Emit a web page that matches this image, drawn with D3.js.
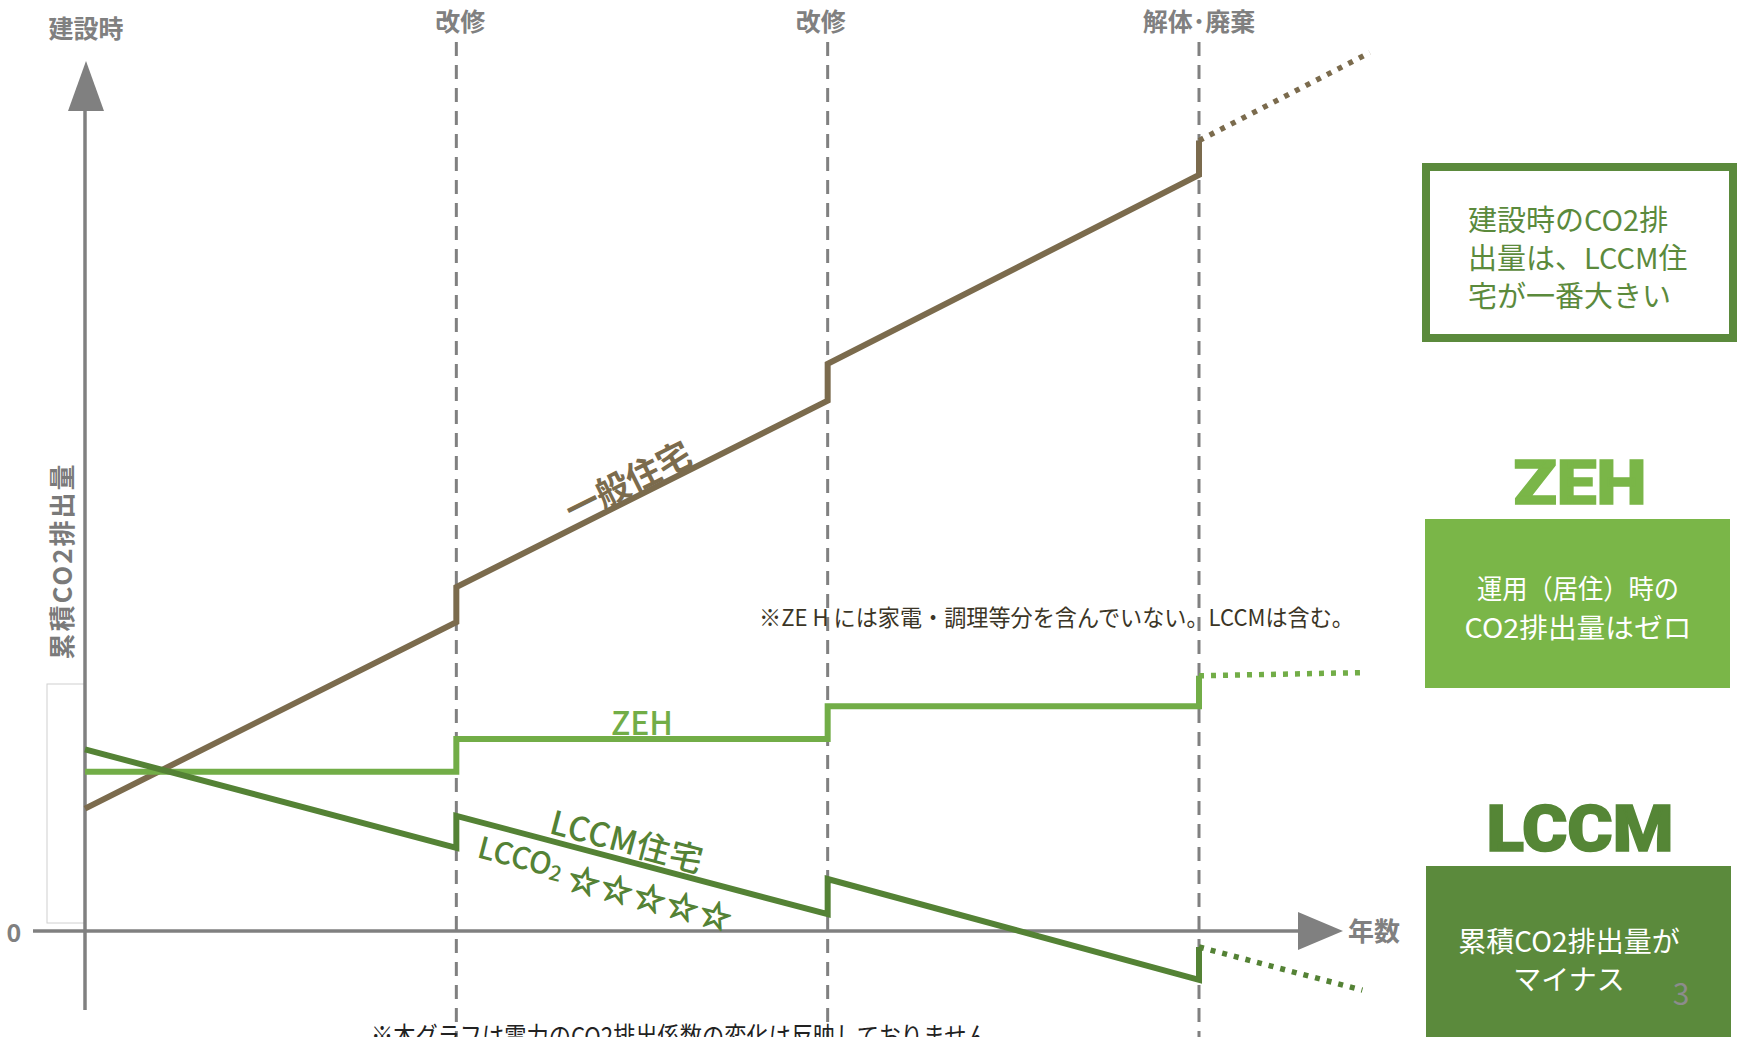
<!DOCTYPE html>
<html>
<head>
<meta charset="utf-8">
<script src="https://cdn.jsdelivr.net/npm/d3@7"></script>
<style>
  html, body { margin: 0; padding: 0; background: #fff; }
  svg { display: block; font-family: "Noto Sans CJK JP", "Noto Sans", sans-serif; }
</style>
</head>
<body>
<svg id="chart" width="1738" height="1037"></svg>
<script>
// phases: 0 = 建設時, 1 = 改修, 2 = 改修, 3 = 解体・廃棄
var phaseTicks = [1, 2, 3];
var phaseLabels = ['改修', '改修', '解体･廃棄'];

// cumulative CO2 (arbitrary units), solid part
var ippanT = [0, 1, 1, 2, 2, 3, 3];
var ippanV = [15.3, 38.6, 43.0, 66.3, 70.9, 94.5, 98.8];
var ippanExtT = [3, 3.46];
var ippanExtV = [98.8, 109.8];

var zehT = [0, 1, 1, 2, 2, 3, 3];
var zehV = [19.9, 19.9, 24.0, 24.0, 28.1, 28.1, 31.9];
var zehExtT = [3, 3.44];
var zehExtV = [31.9, 32.3];

var lccmT = [0, 1, 1, 2, 2, 3, 3];
var lccmV = [22.7, 10.4, 14.4, 2.1, 6.5, -6.1, -2.0];
var lccmExtT = [3, 3.44];
var lccmExtV = [-2.0, -7.4];

var brown = '#7b6b4d';
var lightGreen = '#72ad47';
var darkGreen = '#548235';
var gray = '#808080';

var svg = d3.select('#chart');

var x = d3.scaleLinear().domain([0, 3]).range([85, 1199]);
var y = d3.scaleLinear().domain([0, 100]).range([931, 131]);

function pts(ts, vs) {
    return ts.map(function (t, i) { return [t, vs[i]]; });
}

var line = d3.line()
    .x(function (d) { return x(d[0]); })
    .y(function (d) { return y(d[1]); });

// white box left of the y axis
svg.append('rect')
    .attr('x', 47).attr('y', 684)
    .attr('width', x(0) - 47).attr('height', 239)
    .attr('fill', '#fff')
    .attr('stroke', '#d0d0d0')
    .attr('stroke-width', 1);

// phase dashed lines
svg.selectAll('.phase')
    .data(phaseTicks)
    .enter()
    .append('line')
    .attr('class', 'phase')
    .attr('x1', function (d) { return x(d); })
    .attr('x2', function (d) { return x(d); })
    .attr('y1', 42)
    .attr('y2', 1037)
    .attr('stroke', gray)
    .attr('stroke-width', 3)
    .attr('stroke-dasharray', '14,9');

var labelDx = [4, -7, 0];
svg.selectAll('.phaseLabel')
    .data(phaseLabels)
    .enter()
    .append('text')
    .attr('class', 'phaseLabel')
    .attr('x', function (d, i) { return x(phaseTicks[i]) + labelDx[i]; })
    .attr('y', 31)
    .attr('text-anchor', 'middle')
    .attr('font-size', 25)
    .attr('font-weight', 'bold')
    .attr('fill', gray)
    .text(function (d) { return d; });

svg.append('text')
    .attr('x', x(0) + 1).attr('y', 38)
    .attr('text-anchor', 'middle')
    .attr('font-size', 25)
    .attr('font-weight', 'bold')
    .attr('fill', gray)
    .text('建設時');

// axes
svg.append('line')
    .attr('x1', x(0)).attr('x2', x(0))
    .attr('y1', 108).attr('y2', 1010)
    .attr('stroke', gray).attr('stroke-width', 3.5);
svg.append('path')
    .attr('d', d3.line()([[x(0) + 1, 61], [x(0) + 19, 111], [x(0) - 17, 111]]) + 'Z')
    .attr('fill', gray);

svg.append('line')
    .attr('x1', 33).attr('x2', 1300)
    .attr('y1', y(0)).attr('y2', y(0))
    .attr('stroke', gray).attr('stroke-width', 3.5);
svg.append('path')
    .attr('d', d3.line()([[1298, y(0) - 19], [1343, y(0)], [1298, y(0) + 19]]) + 'Z')
    .attr('fill', gray);

svg.append('text')
    .attr('x', 1348).attr('y', y(0) + 10)
    .attr('font-size', 26).attr('font-weight', 'bold')
    .attr('fill', gray)
    .text('年数');

svg.append('text')
    .attr('x', 14).attr('y', y(0) + 11)
    .attr('text-anchor', 'middle')
    .attr('font-size', 25).attr('font-weight', 'bold')
    .attr('fill', gray)
    .text('0');

svg.append('text')
    .attr('transform', 'translate(72,562) rotate(-90)')
    .attr('text-anchor', 'middle')
    .attr('font-size', 26).attr('font-weight', 'bold')
    .attr('fill', '#7a7a7a')
    .attr('textLength', 195)
    .text('累積CO2排出量');

// series
var series = [
    { solid: pts(ippanT, ippanV), ext: pts(ippanExtT, ippanExtV), color: brown },
    { solid: pts(zehT, zehV), ext: pts(zehExtT, zehExtV), color: lightGreen },
    { solid: pts(lccmT, lccmV), ext: pts(lccmExtT, lccmExtV), color: darkGreen }
];

series.forEach(function (s) {
    svg.append('path')
        .datum(s.solid)
        .attr('d', line)
        .attr('fill', 'none')
        .attr('stroke', s.color)
        .attr('stroke-width', 6)
        .attr('stroke-linejoin', 'miter');
    svg.append('path')
        .datum(s.ext)
        .attr('d', line)
        .attr('fill', 'none')
        .attr('stroke', s.color)
        .attr('stroke-width', 5.5)
        .attr('stroke-dasharray', '5,7');
});

// series labels
svg.append('text')
    .attr('transform', 'translate(627,480) rotate(-26.6)')
    .attr('text-anchor', 'middle')
    .attr('dominant-baseline', 'central')
    .attr('font-size', 34).attr('font-weight', 'bold')
    .attr('fill', brown)
    .text('一般住宅');

svg.append('text')
    .attr('x', 642).attr('y', 735)
    .attr('text-anchor', 'middle')
    .attr('font-size', 32).attr('font-weight', 500)
    .attr('fill', lightGreen)
    .attr('textLength', 62)
    .text('ZEH');

svg.append('text')
    .attr('transform', 'translate(548,833) rotate(14.8)')
    .attr('font-size', 33).attr('font-weight', 500)
    .attr('fill', darkGreen)
    .attr('textLength', 156)
    .text('LCCM住宅');

var lcco = svg.append('text')
    .attr('transform', 'translate(476,857) rotate(14.7)')
    .attr('font-size', 30).attr('font-weight', 500)
    .attr('fill', darkGreen);
lcco.append('tspan').text('LCCO');
lcco.append('tspan').attr('font-size', 21).attr('dy', 3).text('2');
lcco.append('tspan').attr('dy', 4).attr('dx', 8).attr('font-size', 31)
    .attr('font-weight', 'bold')
    .attr('letter-spacing', 3)
    .attr('stroke', darkGreen).attr('stroke-width', 1.3)
    .text('☆☆☆☆☆');

// notes
svg.append('text')
    .attr('x', 759).attr('y', 626)
    .attr('font-size', 23)
    .attr('fill', '#3b3526')
    .attr('textLength', 595)
    .attr('lengthAdjust', 'spacingAndGlyphs')
    .text('※ZE H には家電・調理等分を含んでいない。LCCMは含む。');

svg.append('text')
    .attr('x', 371).attr('y', 1046)
    .attr('font-size', 26)
    .attr('fill', '#222')
    .attr('textLength', 640)
    .attr('lengthAdjust', 'spacingAndGlyphs')
    .text('※本グラフは電力のCO2排出係数の変化は反映しておりません。');

// right panel
svg.append('rect')
    .attr('x', 1426).attr('y', 167)
    .attr('width', 307).attr('height', 171)
    .attr('fill', '#fff')
    .attr('stroke', '#5b8a3c').attr('stroke-width', 8);

var box1 = ['建設時のCO2排', '出量は、LCCM住', '宅が一番大きい'];
svg.selectAll('.box1')
    .data(box1)
    .enter()
    .append('text')
    .attr('class', 'box1')
    .attr('x', 1468)
    .attr('y', function (d, i) { return 231 + i * 38; })
    .attr('font-size', 29)
    .attr('fill', '#5b8a3c')
    .text(function (d) { return d; });

svg.append('text')
    .attr('x', 1580).attr('y', 504)
    .attr('text-anchor', 'middle')
    .attr('font-family', 'Roboto, Inter, "Liberation Sans", sans-serif')
    .attr('font-size', 61).attr('font-weight', 900)
    .attr('fill', '#7ab648')
    .attr('stroke', '#7ab648').attr('stroke-width', 1.5)
    .attr('textLength', 133)
    .attr('lengthAdjust', 'spacingAndGlyphs')
    .text('ZEH');

svg.append('rect')
    .attr('x', 1425).attr('y', 519)
    .attr('width', 305).attr('height', 169)
    .attr('fill', '#7ab648');

var box2 = ['運用（居住）時の', 'CO2排出量はゼロ'];
var box2Len = [202, 227];
svg.selectAll('.box2')
    .data(box2)
    .enter()
    .append('text')
    .attr('class', 'box2')
    .attr('x', 1578)
    .attr('y', function (d, i) { return 599 + i * 39; })
    .attr('text-anchor', 'middle')
    .attr('font-size', 27)
    .attr('fill', '#fff')
    .attr('textLength', function (d, i) { return box2Len[i]; })
    .attr('lengthAdjust', 'spacingAndGlyphs')
    .text(function (d) { return d; });

svg.append('text')
    .attr('x', 1580).attr('y', 851)
    .attr('text-anchor', 'middle')
    .attr('font-family', 'Roboto, Inter, "Liberation Sans", sans-serif')
    .attr('font-size', 65).attr('font-weight', 900)
    .attr('fill', '#558636')
    .attr('stroke', '#558636').attr('stroke-width', 1.5)
    .attr('textLength', 187)
    .attr('lengthAdjust', 'spacingAndGlyphs')
    .text('LCCM');

svg.append('rect')
    .attr('x', 1426).attr('y', 866)
    .attr('width', 305).attr('height', 171)
    .attr('fill', '#5b8a3c');

var box3 = ['累積CO2排出量が', 'マイナス'];
svg.selectAll('.box3')
    .data(box3)
    .enter()
    .append('text')
    .attr('class', 'box3')
    .attr('x', 1569)
    .attr('y', function (d, i) { return 952 + i * 38; })
    .attr('text-anchor', 'middle')
    .attr('font-size', 28)
    .attr('fill', '#fff')
    .text(function (d) { return d; });

svg.append('text')
    .attr('x', 1681).attr('y', 1005)
    .attr('text-anchor', 'middle')
    .attr('font-size', 30)
    .attr('fill', '#8c8c8c')
    .text('3');
</script>
</body>
</html>
